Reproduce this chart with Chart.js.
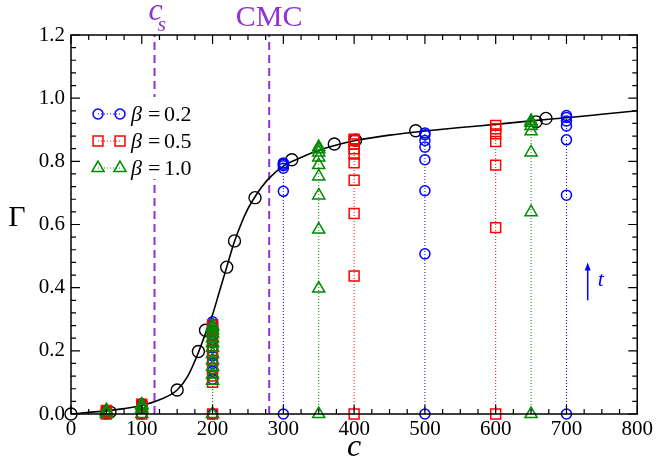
<!DOCTYPE html>
<html>
<head>
<meta charset="utf-8">
<script src="https://cdn.jsdelivr.net/npm/chart.js@4.4.0/dist/chart.umd.min.js"></script>
<style>
  body { margin: 0; background: #fff; }
  #wrap { width: 656px; height: 461px; position: relative; }
</style>
</head>
<body>
<div id="wrap"><canvas id="gammaChart"></canvas></div>
<script>
// fitted isotherm (solid black curve)
const fitC = [0, 25, 50, 75, 100, 125, 150, 165, 180, 190, 200, 210, 220, 230, 240, 250, 260, 270, 280, 300, 325, 350, 375, 400, 450, 500, 550, 600, 650, 700, 750, 800];
const fitGamma = [0, 0.005, 0.01, 0.017, 0.027, 0.045, 0.076, 0.12, 0.195, 0.255, 0.315, 0.39, 0.465, 0.54, 0.6, 0.65, 0.688, 0.72, 0.747, 0.785, 0.812, 0.835, 0.852, 0.865, 0.883, 0.896, 0.907, 0.917, 0.928, 0.938, 0.949, 0.96];

// equilibrium points (black open circles)
const eqC = [0, 55, 150, 180, 190, 220, 231, 260, 312, 372, 402, 487, 657, 671];
const eqGamma = [0, 0.006, 0.076, 0.198, 0.265, 0.465, 0.548, 0.685, 0.805, 0.855, 0.867, 0.897, 0.925, 0.936];

// time series for each beta, one column of values per concentration
const betaLabels = ['0.2', '0.5', '1.0'];

const b02C = [50, 100, 200, 300, 500, 700];
const b02Gamma = [
    [0, 0.008, 0.012],
    [0, 0.02, 0.028, 0.033],
    [0, 0.11, 0.135, 0.16, 0.185, 0.21, 0.23, 0.25, 0.265, 0.275, 0.285, 0.292],
    [0, 0.705, 0.778, 0.786, 0.791, 0.795],
    [0, 0.507, 0.707, 0.805, 0.845, 0.866, 0.884, 0.89],
    [0, 0.693, 0.868, 0.912, 0.928, 0.939, 0.945]
];

const b05C = [50, 100, 200, 400, 600];
const b05Gamma = [
    [0, 0.007, 0.011],
    [0, 0.018, 0.027, 0.031],
    [0, 0.1, 0.12, 0.145, 0.17, 0.195, 0.215, 0.235, 0.25, 0.265, 0.275, 0.283],
    [0, 0.437, 0.635, 0.74, 0.795, 0.823, 0.84, 0.855, 0.865, 0.87],
    [0, 0.59, 0.788, 0.863, 0.887, 0.903, 0.914]
];

const b10C = [50, 100, 200, 350, 650];
const b10Gamma = [
    [0, 0.006, 0.012],
    [0, 0.017, 0.025, 0.03],
    [0, 0.105, 0.125, 0.15, 0.17, 0.19, 0.21, 0.225, 0.24, 0.255, 0.265, 0.275, 0.28],
    [0, 0.397, 0.584, 0.692, 0.752, 0.788, 0.812, 0.828, 0.838, 0.845],
    [0, 0.639, 0.828, 0.895, 0.912, 0.922, 0.928]
];

// c_s and CMC markers, time arrow
const csC = 118;
const cmcC = 280;
const arrowC = 730;
const arrowFrom = 0.36;
const arrowTo = 0.48;

const serif = 'Liberation Serif';
const purple = '#9032d4';

// points of all columns in one list, NaN breaks the dotted line between columns
function columnPoints (cols, vals) {
    const pts = [];
    cols.forEach(function (c, i) {
        if (i > 0) pts.push({ x: c, y: NaN });
        vals[i].forEach(function (g) { pts.push({ x: c, y: g }); });
    });
    return pts;
}

function pairs (xs, ys) {
    return xs.map(function (v, i) { return { x: v, y: ys[i] }; });
}

function betaSet (label, pts, color, style, radius, order) {
    return {
        label: label,
        data: pts,
        showLine: true,
        borderColor: color,
        borderWidth: 1,
        borderDash: [1, 2],
        pointStyle: style,
        pointRadius: radius,
        pointBorderWidth: 1.5,
        pointBackgroundColor: 'rgba(0,0,0,0)',
        spanGaps: false,
        clip: false,
        order: order
    };
}

const betaSets = [
    betaSet(betaLabels[0], columnPoints(b02C, b02Gamma), '#0000ff', 'circle', 5, 3),
    betaSet(betaLabels[1], columnPoints(b05C, b05Gamma), '#ff0000', 'rect', 7, 2),
    betaSet(betaLabels[2], columnPoints(b10C, b10Gamma), '#008b00', 'triangle', 7, 1)
];

const data = {
    datasets: betaSets.concat([
        {
            label: 'eq',
            data: pairs(eqC, eqGamma),
            showLine: false,
            borderColor: '#000',
            pointStyle: 'circle',
            pointRadius: 6,
            pointBorderWidth: 1.4,
            pointBackgroundColor: 'rgba(0,0,0,0)',
            clip: false,
            order: 4
        },
        {
            label: 'fit',
            data: pairs(fitC, fitGamma),
            showLine: true,
            borderColor: '#000',
            borderWidth: 1.6,
            cubicInterpolationMode: 'monotone',
            pointRadius: 0,
            order: 5
        },
        {
            label: 'cs',
            data: [{ x: csC, y: 0 }, { x: csC, y: 1.2 }],
            showLine: true,
            borderColor: purple,
            borderWidth: 2,
            borderDash: [8, 5],
            pointRadius: 0,
            order: 6
        },
        {
            label: 'cmc',
            data: [{ x: cmcC, y: 0 }, { x: cmcC, y: 1.2 }],
            showLine: true,
            borderColor: purple,
            borderWidth: 2,
            borderDash: [8, 5],
            pointRadius: 0,
            order: 6
        }
    ])
};

// frame with inward ticks on all four sides, labels, legend and arrow
const decor = {
    id: 'decor',
    afterDatasetsDraw (chart) {
        const ctx = chart.ctx;
        const a = chart.chartArea;
        const x = chart.scales.x;
        const y = chart.scales.y;
        ctx.save();

        ctx.strokeStyle = '#000';
        ctx.lineWidth = 1.5;
        ctx.strokeRect(a.left, a.top, a.right - a.left, a.bottom - a.top);

        ctx.lineWidth = 1.2;
        ctx.beginPath();
        for (let i = 0; i <= 32; i++) {
            const px = x.getPixelForValue(i * 25);
            const len = i % 4 === 0 ? 9 : 5;
            ctx.moveTo(px, a.bottom); ctx.lineTo(px, a.bottom - len);
            ctx.moveTo(px, a.top); ctx.lineTo(px, a.top + len);
        }
        for (let i = 0; i <= 30; i++) {
            const py = y.getPixelForValue(i * 0.04);
            const len = i % 5 === 0 ? 9 : 5;
            ctx.moveTo(a.left, py); ctx.lineTo(a.left + len, py);
            ctx.moveTo(a.right, py); ctx.lineTo(a.right - len, py);
        }
        ctx.stroke();

        // legend on a white box
        const lx = a.left + 15;
        const ly = a.top + 62;
        ctx.fillStyle = '#fff';
        ctx.fillRect(lx, ly, 120, 82);
        betaSets.forEach(function (ds, i) {
            const row = ly + 17 + i * 27;
            const m0 = lx + 12;
            const m1 = lx + 34;
            ctx.strokeStyle = ds.borderColor;
            ctx.lineWidth = 1;
            ctx.setLineDash([1, 2]);
            ctx.beginPath();
            ctx.moveTo(m0, row); ctx.lineTo(m1, row);
            ctx.stroke();
            ctx.setLineDash([]);
            ctx.lineWidth = 1.5;
            ctx.fillStyle = 'rgba(0,0,0,0)';
            [m0, m1].forEach(function (mx) {
                Chart.helpers.drawPoint(ctx, {
                    pointStyle: ds.pointStyle, radius: ds.pointRadius, rotation: 0, borderWidth: 1.5
                }, mx, row);
            });
            ctx.fillStyle = '#000';
            ctx.textBaseline = 'middle';
            ctx.textAlign = 'left';
            ctx.font = 'italic 22px ' + serif;
            ctx.fillText('\u03b2', lx + 45, row + 1);
            ctx.font = '22px ' + serif;
            ctx.fillText('=', lx + 62, row + 1);
            ctx.fillText(ds.label, lx + 78, row + 1);
        });

        // axis titles
        ctx.fillStyle = '#000';
        ctx.textAlign = 'center';
        ctx.textBaseline = 'alphabetic';
        ctx.font = 'italic 32px ' + serif;
        ctx.fillText('c', (a.left + a.right) / 2, 456);
        ctx.font = '30px ' + serif;
        ctx.fillText('\u0393', 17, 226);

        // c_s and CMC labels above the frame
        ctx.fillStyle = purple;
        const csX = x.getPixelForValue(csC);
        ctx.textAlign = 'left';
        ctx.font = 'italic 32px ' + serif;
        ctx.fillText('c', csX - 6, 20);
        ctx.font = 'italic 22px ' + serif;
        ctx.fillText('s', csX + 3, 31);
        ctx.textAlign = 'center';
        ctx.font = '30px ' + serif;
        ctx.fillText('CMC', x.getPixelForValue(cmcC), 26);

        // time arrow
        const ax = x.getPixelForValue(arrowC);
        const ay0 = y.getPixelForValue(arrowFrom);
        const ay1 = y.getPixelForValue(arrowTo);
        ctx.strokeStyle = '#0000ff';
        ctx.fillStyle = '#0000ff';
        ctx.lineWidth = 1.5;
        ctx.beginPath();
        ctx.moveTo(ax, ay0); ctx.lineTo(ax, ay1 + 5);
        ctx.stroke();
        ctx.beginPath();
        ctx.moveTo(ax, ay1); ctx.lineTo(ax - 3, ay1 + 8); ctx.lineTo(ax + 3, ay1 + 8);
        ctx.closePath();
        ctx.fill();
        ctx.textAlign = 'left';
        ctx.font = 'italic 22px ' + serif;
        ctx.fillText('t', ax + 10, ay1 + 24);

        ctx.restore();
    }
};

const tickFont = { family: serif, size: 21 };

const config = {
    type: 'scatter',
    data: data,
    options: {
        responsive: true,
        maintainAspectRatio: false,
        animation: false,
        layout: { padding: { top: 35, right: 17, left: 0, bottom: 0 } },
        plugins: {
            legend: { display: false },
            tooltip: { enabled: false }
        },
        scales: {
            x: {
                type: 'linear',
                min: 0,
                max: 800,
                grid: { display: false, drawTicks: false },
                border: { display: false },
                ticks: { stepSize: 100, padding: 3, color: '#000', font: tickFont, maxRotation: 0, autoSkip: false },
                afterFit: function (s) { s.height = 47; }
            },
            y: {
                type: 'linear',
                min: 0,
                max: 1.2,
                grid: { display: false, drawTicks: false },
                border: { display: false },
                ticks: {
                    stepSize: 0.2,
                    padding: 6,
                    color: '#000',
                    font: tickFont,
                    callback: function (v) { return v.toFixed(1); }
                },
                afterFit: function (s) { s.width = 71; }
            }
        }
    },
    plugins: [decor]
};

const gammaChart = new Chart(document.getElementById('gammaChart'), config);
</script>
</body>
</html>
